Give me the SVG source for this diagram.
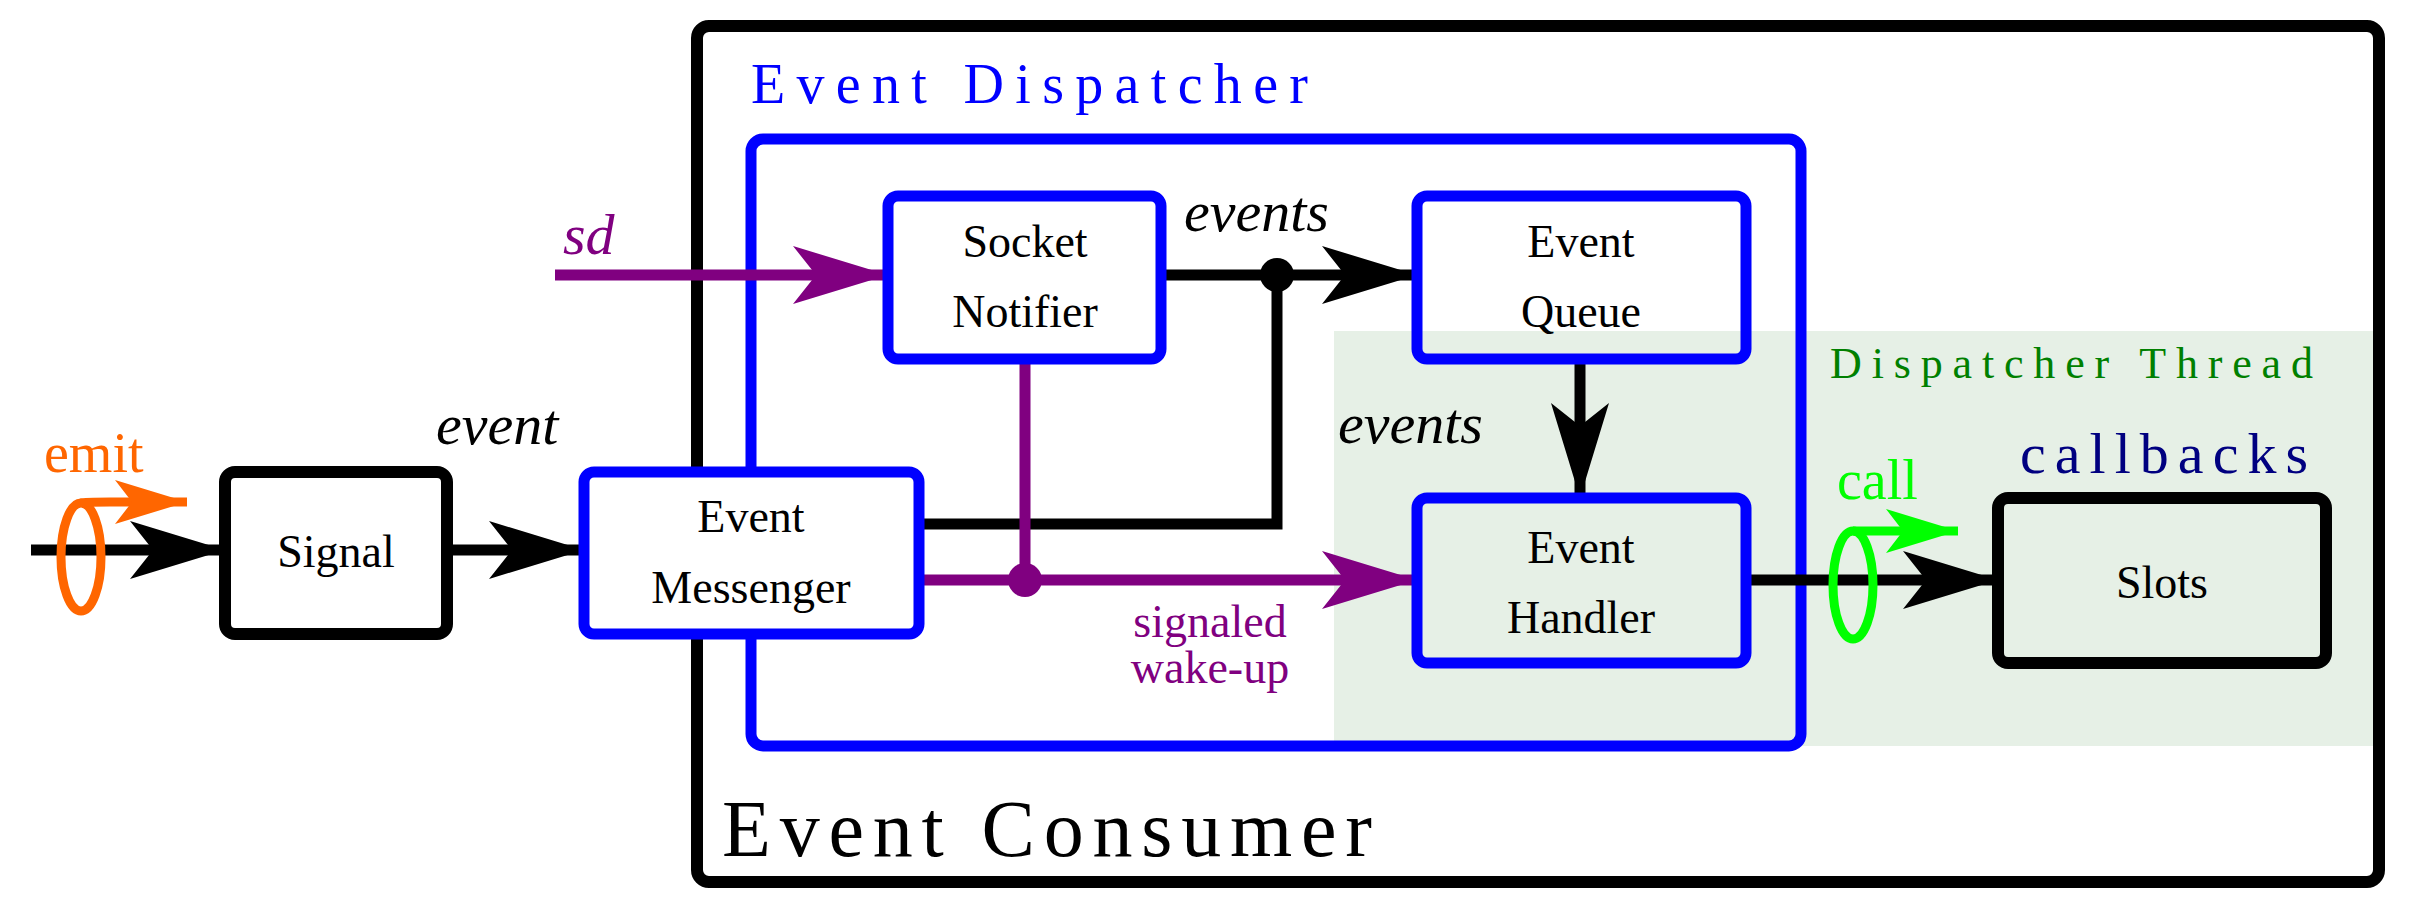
<svg xmlns="http://www.w3.org/2000/svg" width="2418" height="912" viewBox="0 0 2418 912">
<style>
text{font-family:"Liberation Serif","DejaVu Serif",serif;}
.lbl{font-size:46px;text-anchor:middle;fill:#000;}
.it{font-style:italic;}
.kb{fill:none;stroke:#000;stroke-width:12;}
.bb{stroke:#0000ff;stroke-width:11;}
.ln{fill:none;stroke-width:11;}
</style>
<defs>
<marker id="ah" viewBox="-96 -30 100 60" refX="0" refY="0" markerWidth="100" markerHeight="60" markerUnits="userSpaceOnUse" orient="auto">
<path d="M0,0 L-95,-29 L-72,0 L-95,29 Z" fill="context-stroke"/>
</marker>
<marker id="ahk" viewBox="-96 -30 100 60" refX="0" refY="0" markerWidth="100" markerHeight="60" markerUnits="userSpaceOnUse" orient="auto">
<path d="M0,0 L-95,-29 L-72,0 L-95,29 Z" fill="#000"/>
</marker>
<marker id="ahp" viewBox="-96 -30 100 60" refX="0" refY="0" markerWidth="100" markerHeight="60" markerUnits="userSpaceOnUse" orient="auto">
<path d="M0,0 L-95,-29 L-72,0 L-95,29 Z" fill="#800080"/>
</marker>
<marker id="aho" viewBox="-76 -24 80 48" refX="0" refY="0" markerWidth="80" markerHeight="48" markerUnits="userSpaceOnUse" orient="auto">
<path d="M0,0 L-72,-22 L-55,0 L-72,22 Z" fill="#ff6600"/>
</marker>
<marker id="ahg" viewBox="-76 -24 80 48" refX="0" refY="0" markerWidth="80" markerHeight="48" markerUnits="userSpaceOnUse" orient="auto">
<path d="M0,0 L-72,-22 L-55,0 L-72,22 Z" fill="#00ff00"/>
</marker>
</defs>

<g id="background">
<rect x="1334" y="331" width="1045" height="415" fill="#e6f0e6"/>
<rect id="consumer" x="697" y="26" width="1682" height="856" rx="12" class="kb"/>
<text x="722" y="856" font-size="80" textLength="650" fill="#000">Event Consumer</text>
<rect id="dispatcher" x="751" y="139" width="1050" height="607" rx="12" fill="none" class="bb"/>
<text x="751" y="103" font-size="56" textLength="557" fill="#0000ff">Event Dispatcher</text>
<text x="1830" y="378" font-size="44" textLength="483" fill="#008000">Dispatcher Thread</text>
</g>

<g id="connectors">
<line x1="31" y1="550" x2="225" y2="550" class="ln" stroke="#000" marker-end="url(#ahk)"/>
<line x1="447" y1="550" x2="584" y2="550" class="ln" stroke="#000" marker-end="url(#ahk)"/>
<line x1="555" y1="275" x2="888" y2="275" class="ln" stroke="#800080" marker-end="url(#ahp)"/>
<line x1="1161" y1="275" x2="1417" y2="275" class="ln" stroke="#000" marker-end="url(#ahk)"/>
<polyline points="919,524 1277,524 1277,275" class="ln" stroke="#000"/>
<circle cx="1277" cy="275" r="17" fill="#000"/>
<line x1="1025" y1="359" x2="1025" y2="580" class="ln" stroke="#800080"/>
<line x1="919" y1="580" x2="1417" y2="580" class="ln" stroke="#800080" marker-end="url(#ahp)"/>
<circle cx="1025" cy="580" r="17" fill="#800080"/>
<line x1="1580" y1="359" x2="1580" y2="498" class="ln" stroke="#000" marker-end="url(#ahk)"/>
<line x1="1746" y1="580" x2="1998" y2="580" class="ln" stroke="#000" marker-end="url(#ahk)"/>
<ellipse cx="81" cy="557" rx="20" ry="54" fill="none" stroke="#ff6600" stroke-width="9"/>
<path d="M81,503 Q84,502 110,502 L187,502" fill="none" stroke="#ff6600" stroke-width="9" marker-end="url(#aho)"/>
<ellipse cx="1853" cy="585" rx="20" ry="54" fill="none" stroke="#00ff00" stroke-width="9"/>
<path d="M1853,531 L1958,531" fill="none" stroke="#00ff00" stroke-width="9" marker-end="url(#ahg)"/>
<text x="44" y="472" font-size="56" fill="#ff6600">emit</text>
<text x="1837" y="499" font-size="56" fill="#00ff00">call</text>
<text x="436" y="444" font-size="58" class="it">event</text>
<text x="563" y="254" font-size="58" class="it" fill="#800080">sd</text>
<text x="1184" y="231" font-size="58" class="it">events</text>
<text x="1338" y="443" font-size="58" class="it">events</text>
<text x="1210" y="637" font-size="46" text-anchor="middle" fill="#800080">signaled</text>
<text x="1210" y="683" font-size="46" text-anchor="middle" fill="#800080">wake-up</text>
<text x="2020" y="473" font-size="58" textLength="288" fill="#000080">callbacks</text>
</g>

<g id="signal">
<rect x="225" y="472" width="222" height="162" rx="10" class="kb" fill="#fff"/>
<text x="336" y="567" class="lbl">Signal</text>
</g>
<g id="messenger">
<rect x="584" y="472" width="335" height="162" rx="10" fill="#fff" class="bb"/>
<text x="751" y="532" class="lbl">Event</text>
<text x="751" y="603" class="lbl">Messenger</text>
</g>
<g id="socket-notifier">
<rect x="888" y="196" width="273" height="163" rx="10" fill="#fff" class="bb"/>
<text x="1025" y="257" class="lbl">Socket</text>
<text x="1025" y="327" class="lbl">Notifier</text>
</g>
<g id="event-queue">
<rect x="1417" y="196" width="329" height="163" rx="10" fill="none" class="bb"/>
<text x="1581" y="257" class="lbl">Event</text>
<text x="1581" y="327" class="lbl">Queue</text>
</g>
<g id="event-handler">
<rect x="1417" y="498" width="329" height="165" rx="10" fill="none" class="bb"/>
<text x="1581" y="563" class="lbl">Event</text>
<text x="1581" y="633" class="lbl">Handler</text>
</g>
<g id="slots">
<rect x="1998" y="498" width="328" height="165" rx="10" class="kb"/>
<text x="2162" y="598" class="lbl">Slots</text>
</g>
</svg>
